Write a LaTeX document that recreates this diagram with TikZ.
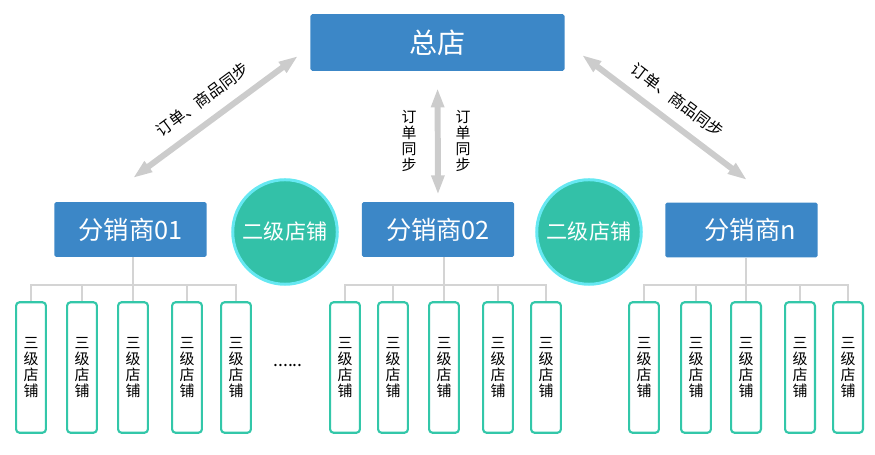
\documentclass[tikz,border=0pt]{standalone}
\usepackage{fontspec}
\newfontfamily\cjk{Noto Sans CJK SC}
\usetikzlibrary{arrows.meta}
\definecolor{boxblue}{HTML}{3C87C7}
\definecolor{shopteal}{HTML}{33C1A8}
\definecolor{ringcyan}{HTML}{66E8F2}
\definecolor{leafteal}{HTML}{33C7A9}
\definecolor{linegray}{HTML}{D4D4D4}
\definecolor{arrowgray}{HTML}{CCCCCC}

\begin{document}
\begin{tikzpicture}
		[x=0.02cm,y=-0.02cm]
			\tikzstyle{hub}=[rectangle, rounded corners=1pt, fill=boxblue, text=white,
		font=\cjk\fontsize{14.4}{16}\selectfont, minimum width=86.7pt, minimum height=31.2pt, inner sep=0pt]
			\tikzstyle{shop}=[circle, fill=shopteal, draw=ringcyan, line width=1.7pt,
		minimum size=59.5pt, text=white, font=\cjk\fontsize{12}{14}\selectfont, inner sep=0pt]
			\tikzstyle{leaf}=[rectangle, rounded corners=2pt, draw=leafteal, line width=1.2pt, fill=white,
		minimum width=17pt, minimum height=74.3pt, align=center, inner sep=0pt, font=\cjk\fontsize{8.5}{9.1}\selectfont]
			\tikzstyle{sync}=[draw=arrowgray, line width=3.4pt, {Triangle[width=7pt,length=11pt]}-{Triangle[width=7pt,length=11pt]}]
			\tikzstyle{tree}=[draw=linegray, line width=0.9pt]
			\tikzstyle{note}=[font=\cjk\fontsize{8.5}{9.1}\selectfont, align=center, inner sep=0pt]
		\useasboundingbox (0,0) rectangle (875,455);
		%-----top and distributors
		 \node[hub, minimum width=144.6pt, minimum height=32.3pt, font=\cjk\fontsize{16}{18}\selectfont]  (HQ) at (437.5,42.5) {总店};
		 \node[hub]  (D01) at (130.5,229.5) {分销商01};
		 \node[hub]  (D02) at (438,229.5) {分销商02};
		 \node[hub]  (Dn) at (741.5,230) {\hspace*{10pt}分销商n};
		 \node[shop]  (C1) at (285,232) {二级店铺};
		 \node[shop]  (C2) at (589,232) {二级店铺};
		%-----sync arrows
		 \coordinate (L1) at (133,178);
		 \coordinate (L2) at (298,56);
		 \coordinate (R1) at (582,55);
		 \coordinate (R2) at (747,180);
		 \draw[sync] (L1) -- node[note, sloped, above=6.5pt, font=\cjk\fontsize{9}{10}\selectfont] {订单、商品同步} (L2);
		 \draw[sync] (R1) -- node[note, sloped, above=6.5pt, font=\cjk\fontsize{9}{10}\selectfont] {订单、商品同步} (R2);
		 \draw[sync, shorten <=9.6pt, shorten >=4pt] (HQ.south) -- (D02.north);
		 \node[note]  (S1) at (409,141) {订\\单\\同\\步};
		 \node[note]  (S2) at (463,141) {订\\单\\同\\步};
		%-----third level
		 \foreach \n/\x in {11/31,12/82,13/133,14/187,15/236,21/345,22/393,23/444,24/498,25/546,31/644,32/696,33/746,34/800,35/848}
		 \node[leaf]  (T\n) at (\x,367.5) {三\\级\\店\\铺};
		 \node[note, font=\cjk\fontsize{10}{12}\selectfont]  (etc) at (288,366) {......};
		 
		 \foreach \g/\d in {1/D01,2/D02,3/Dn} {
		 \draw[tree] (T\g3.north) ++(0,-16) -- (T\g3 |- \d.south);
		 \draw[tree] (T\g1.north) -- ++(0,-16) -| (T\g5.north);
		 \foreach \i in {2,3,4} \draw[tree] (T\g\i.north) -- ++(0,-16);
		 }
		 
		 	\end{tikzpicture}
\end{document}
